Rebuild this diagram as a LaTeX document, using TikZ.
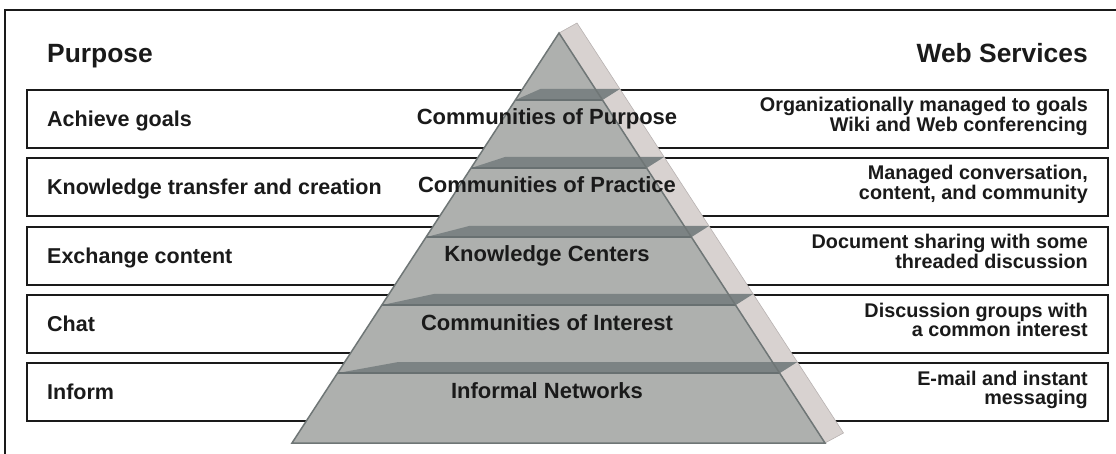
\documentclass[tikz,border=0pt]{standalone}
\usepackage{fontspec}
\setmainfont{Liberation Sans}
\definecolor{face}{HTML}{AEB0AE}
\definecolor{bandc}{HTML}{7C8384}
\definecolor{bandedge}{HTML}{687071}
\definecolor{shade}{HTML}{D8D2D0}
\definecolor{edgec}{HTML}{6F7676}
\definecolor{ink}{HTML}{1A1A1A}
\tikzset{
 frameline/.style={line width=2.8pt, draw=ink},
 rowbox/.style={draw=ink, line width=2.8pt, fill=white, minimum width=1081pt, minimum height=58pt, inner sep=0pt, outer sep=0pt},
 lefttext/.style={font=\fontsize{21.5}{24}\selectfont\bfseries, text=ink, anchor=base west, inner sep=0pt},
 righttext/.style={font=\fontsize{19.8}{19.5}\selectfont\bfseries, text=ink, anchor=base east, align=right, inner sep=0pt},
 tiertext/.style={font=\fontsize{22}{24}\selectfont\bfseries, text=ink, anchor=base, inner sep=0pt},
 headtext/.style={font=\fontsize{26.4}{30}\selectfont\bfseries, text=ink, inner sep=0pt},
 shadowface/.style={fill=shade, draw=shade!85!black, line width=0.6pt},
 frontface/.style={fill=face},
 frontedge/.style={draw=edgec, line width=1.5pt, line join=miter},
 bandface/.style={fill=bandc},
 bandline/.style={draw=bandedge, line width=1.2pt},
}
\begin{document}
\begin{tikzpicture}[x=1pt,y=-1pt]
\useasboundingbox (0,0) rectangle (1116,454);
% outer frame (cropped at right and bottom)
\draw[frameline] (5,470) -- (5,10) -- (1130,10);
% headings
\node[headtext, anchor=base west] (hpurpose) at (47,63) {Purpose};
\node[headtext, anchor=base east] (hweb) at (1088,63) {Web Services};
% row boxes
\foreach \t [count=\i] in {90,158,227,295,363}{
  \node[rowbox] (r\i) at (567.5,\t+29) {};
}
% pyramid shadow
\coordinate (apex) at (559,33);
\coordinate (sapex) at (577,23);
\coordinate (bl) at (292,443);
\coordinate (br) at (825,443);
\coordinate (sbr) at (843.5,433);
\fill[shadowface] (apex) -- (sapex) -- (sbr) -- (br) -- cycle;
% pyramid front
\fill[frontface] (apex) -- (br) -- (bl) -- cycle;
% bands (top faces of the tiers)
\foreach \t [count=\i] in {89,157,226,294,362}{
  \pgfmathsetmacro{\yb}{\t+11}
  \pgfmathsetmacro{\xl}{559-0.65*(\yb-33)}
  \pgfmathsetmacro{\xr}{559+0.65*(\yb-33)}
  \pgfmathsetmacro{\xs}{577+0.65*(\t-23)}
  \pgfmathsetmacro{\wdg}{\xl+25+0.1*(\xr-\xl-88)}
  \coordinate (b\i l) at (\xl,\yb);
  \coordinate (b\i w) at (\wdg,\t);
  \coordinate (b\i s) at (\xs,\t);
  \coordinate (b\i r) at (\xr,\yb);
  \fill[bandface] (b\i l) -- (b\i w) -- (b\i s) -- (b\i r) -- cycle;
  \draw[bandline] (b\i l) -- (b\i r);
}
\draw[frontedge] (apex) -- (br) -- (bl) -- cycle;
% tier labels
\node[tiertext] (t1) at (547,125) {Communities of Purpose};
\node[tiertext] (t2) at (547,193) {Communities of Practice};
\node[tiertext] (t3) at (547,262) {Knowledge Centers};
\node[tiertext] (t4) at (547,330) {Communities of Interest};
\node[tiertext] (t5) at (547,398) {Informal Networks};
% left texts
\node[lefttext] (p1) at (47,126.5) {Achieve goals};
\node[lefttext] (p2) at (47,194.5) {Knowledge transfer and creation};
\node[lefttext] (p3) at (47,263.5) {Exchange content};
\node[lefttext] (p4) at (47,331.5) {Chat};
\node[lefttext] (p5) at (47,399.5) {Inform};
% right texts (base anchor = baseline of the second line)
\node[righttext] (w1) at (1088,131.5) {Organizationally managed to goals\\Wiki and Web conferencing};
\node[righttext] (w2) at (1088,199.5) {Managed conversation,\\content, and community};
\node[righttext] (w3) at (1088,268.5) {Document sharing with some\\threaded discussion};
\node[righttext] (w4) at (1088,336.5) {Discussion groups with\\a common interest};
\node[righttext] (w5) at (1088,404.5) {E-mail and instant\\messaging};
\end{tikzpicture}
\end{document}
